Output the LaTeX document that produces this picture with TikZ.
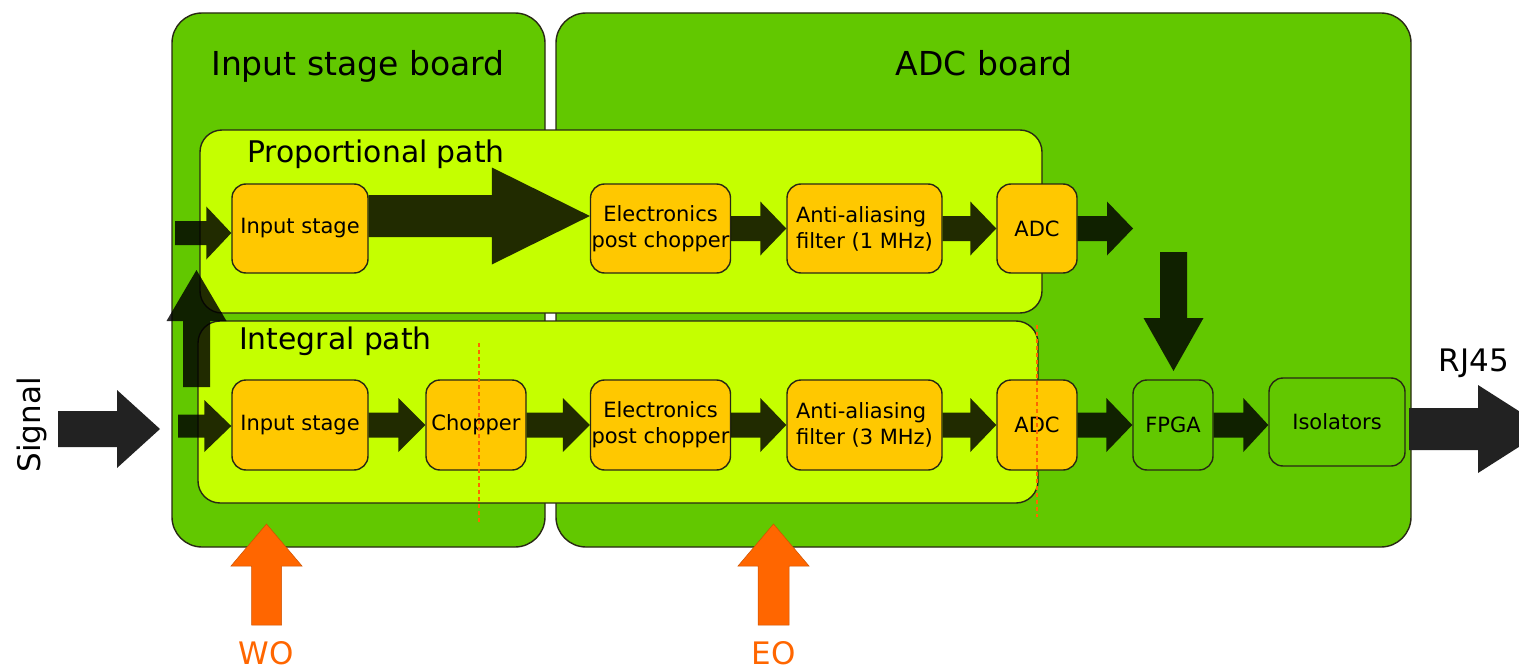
\documentclass[tikz,border=0pt]{standalone}
\usepackage{fontspec}
\setmainfont{DejaVu Sans}
\usetikzlibrary{calc}
\definecolor{boardgreen}{RGB}{98,200,0}
\definecolor{panelgreen}{RGB}{197,255,0}
\definecolor{boxorange}{RGB}{255,200,0}
\definecolor{edgecol}{RGB}{40,40,20}
\definecolor{warnorange}{RGB}{255,102,0}
\definecolor{iogray}{RGB}{34,34,34}

% horizontal block arrow: [style]{start}{end}{shaft half}{head half}{head length}
\newcommand\HArr[6][sigflow]{%
  \fill[#1] let \p1=(#2), \p2=(#3) in
    (\x1,\y1+#4pt) -- (\x2-#6pt,\y1+#4pt) -- (\x2-#6pt,\y1+#5pt) -- (\x2,\y1)
    -- (\x2-#6pt,\y1-#5pt) -- (\x2-#6pt,\y1-#4pt) -- (\x1,\y1-#4pt) -- cycle;}
% upward block arrow
\newcommand\UArr[6][sigflow]{%
  \fill[#1] let \p1=(#2), \p2=(#3) in
    (\x1-#4pt,\y1) -- (\x1-#4pt,\y2-#6pt) -- (\x1-#5pt,\y2-#6pt) -- (\x1,\y2)
    -- (\x1+#5pt,\y2-#6pt) -- (\x1+#4pt,\y2-#6pt) -- (\x1+#4pt,\y1) -- cycle;}
% downward block arrow
\newcommand\DArr[6][sigflow]{%
  \fill[#1] let \p1=(#2), \p2=(#3) in
    (\x1-#4pt,\y1) -- (\x1-#4pt,\y2+#6pt) -- (\x1-#5pt,\y2+#6pt) -- (\x1,\y2)
    -- (\x1+#5pt,\y2+#6pt) -- (\x1+#4pt,\y2+#6pt) -- (\x1+#4pt,\y1) -- cycle;}

\begin{document}
\begin{tikzpicture}[x=1pt,y=-1pt,
  board/.style={draw=edgecol, line width=1.4pt, fill=boardgreen, rounded corners=30pt, inner sep=0pt},
  panel/.style={draw=edgecol, line width=1.4pt, fill=panelgreen, rounded corners=22pt, inner sep=0pt},
  blockbox/.style={draw=edgecol, line width=1.4pt, fill=boxorange, rounded corners=14pt,
     inner sep=1pt, align=center, font=\fontsize{21}{26}\selectfont},
  greenbox/.style={blockbox, fill=boardgreen},
  boardtitle/.style={font=\fontsize{33}{38}\selectfont, inner sep=0pt},
  pathtitle/.style={font=\fontsize{29.8}{35}\selectfont, inner sep=0pt},
  iolabel/.style={font=\fontsize{31}{36}\selectfont, inner sep=0pt},
  sigflow/.style={fill=black, fill opacity=0.83},
  ioflow/.style={fill=iogray},
  optflow/.style={fill=warnorange, draw=warnorange!80!black, line width=0.5pt},
  cutline/.style={draw=warnorange, line width=1.5pt, dash pattern=on 4pt off 3pt}]

\useasboundingbox (0,0) rectangle (1519,669);
\clip (0,0) rectangle (1519,669);

% boards
\node[board, minimum width=373pt, minimum height=534pt] (isb) at (358.5,280) {};
\node[board, minimum width=855pt, minimum height=534pt] (adcb) at (983.5,280) {};
\node[boardtitle, anchor=base] (isbt) at (358,76) {Input stage board};
\node[boardtitle, anchor=base] (adcbt) at (984,76) {ADC board};

% panels
\node[panel, minimum width=842pt, minimum height=183pt] (ppanel) at (621,221.5) {};
\node[panel, minimum width=840pt, minimum height=182pt] (ipanel) at (618,412) {};
\node[pathtitle, anchor=base west] (pt) at (247,162) {Proportional path};
\node[pathtitle, anchor=base west] (it) at (239,349) {Integral path};

% proportional row
\node[blockbox, minimum width=136pt, minimum height=89pt] (pin) at (300,228.5) {Input stage};
\node[blockbox, minimum width=139pt, minimum height=89pt] (pelec) at (660.5,228.5) {Electronics\\post chopper};
\node[blockbox, minimum width=155pt, minimum height=89pt, align=left] (paa) at (864.5,228.5) {Anti-aliasing\\filter (1 MHz)};
\node[blockbox, minimum width=80pt, minimum height=89pt] (padc) at (1037,228.5) {ADC};

% integral row
\node[blockbox, minimum width=136pt, minimum height=90pt] (iin) at (300,425) {Input stage};
\node[blockbox, minimum width=100pt, minimum height=90pt] (ichop) at (476,425) {Chopper};
\node[blockbox, minimum width=139pt, minimum height=90pt] (ielec) at (660.5,425) {Electronics\\post chopper};
\node[blockbox, minimum width=155pt, minimum height=90pt, align=left] (iaa) at (864.5,425) {Anti-aliasing\\filter (3 MHz)};
\node[blockbox, minimum width=80pt, minimum height=90pt] (iadc) at (1037,425) {ADC};
\node[greenbox, minimum width=80pt, minimum height=90pt] (fpga) at (1173,425) {FPGA};
\node[greenbox, minimum width=136pt, minimum height=88pt] (iso) at (1337,422) {Isolators};

% free ends
\coordinate (sigS) at (58,429);
\coordinate (sigE) at (160,429);
\coordinate (iinS) at (178,426);
\coordinate (upS) at (196.5,387);
\coordinate (upE) at (196.5,270);
\coordinate (pinS) at (175,233);
\coordinate (pout) at (1133,228.5);
\coordinate (dnS) at (1173.5,252);
\coordinate (dnE) at (1173.5,371);
\coordinate (rjS) at (1409,429);
\coordinate (rjE) at (1547,429);
\coordinate (woS) at (266.5,625);
\coordinate (woE) at (266.5,524);
\coordinate (eoS) at (773.5,625);
\coordinate (eoE) at (773.5,524);

% input arrows
\HArr[ioflow]{sigS}{sigE}{18}{39}{43}
\HArr{iinS}{iin.west}{11.5}{26}{27}
\UArr{upS}{upE}{13.5}{30}{51}
\HArr{pinS}{pin.west}{12}{26.5}{25}

% proportional path arrows
\HArr{$(pin.east)+(0,-12.5)$}{pelec.west}{21}{48.5}{98}
\HArr{pelec.east}{paa.west}{12.5}{27}{26}
\HArr{paa.east}{padc.west}{12.5}{27}{26}
\HArr{padc.east}{pout}{12.5}{27}{26}
\DArr{dnS}{dnE}{13.5}{30}{53}

% integral path arrows
\HArr{iin.east}{ichop.west}{12.5}{27}{27}
\HArr{ichop.east}{ielec.west}{12.5}{27}{27}
\HArr{ielec.east}{iaa.west}{12.5}{27}{26}
\HArr{iaa.east}{iadc.west}{12.5}{27}{26}
\HArr{iadc.east}{fpga.west}{12.5}{27}{26}
\HArr{fpga.east}{iso.west}{12.5}{27}{25}

% output
\HArr[ioflow]{rjS}{rjE}{21}{44}{69}

% optical inputs
\UArr[optflow]{woS}{woE}{15}{35.5}{42}
\UArr[optflow]{eoS}{eoE}{15.5}{35.5}{42}

% cut lines
\draw[cutline] (479,343) -- (479,524);
\draw[cutline] (1037,325) -- (1037,517);

% labels
\node[iolabel, rotate=90] (sigl) at (31.5,425) {Signal};
\node[iolabel] (rjl) at (1474,363) {RJ45};
\node[iolabel, text=warnorange] (wol) at (266,653) {WO};
\node[iolabel, text=warnorange] (eol) at (773.5,653) {EO};
\end{tikzpicture}
\end{document}
